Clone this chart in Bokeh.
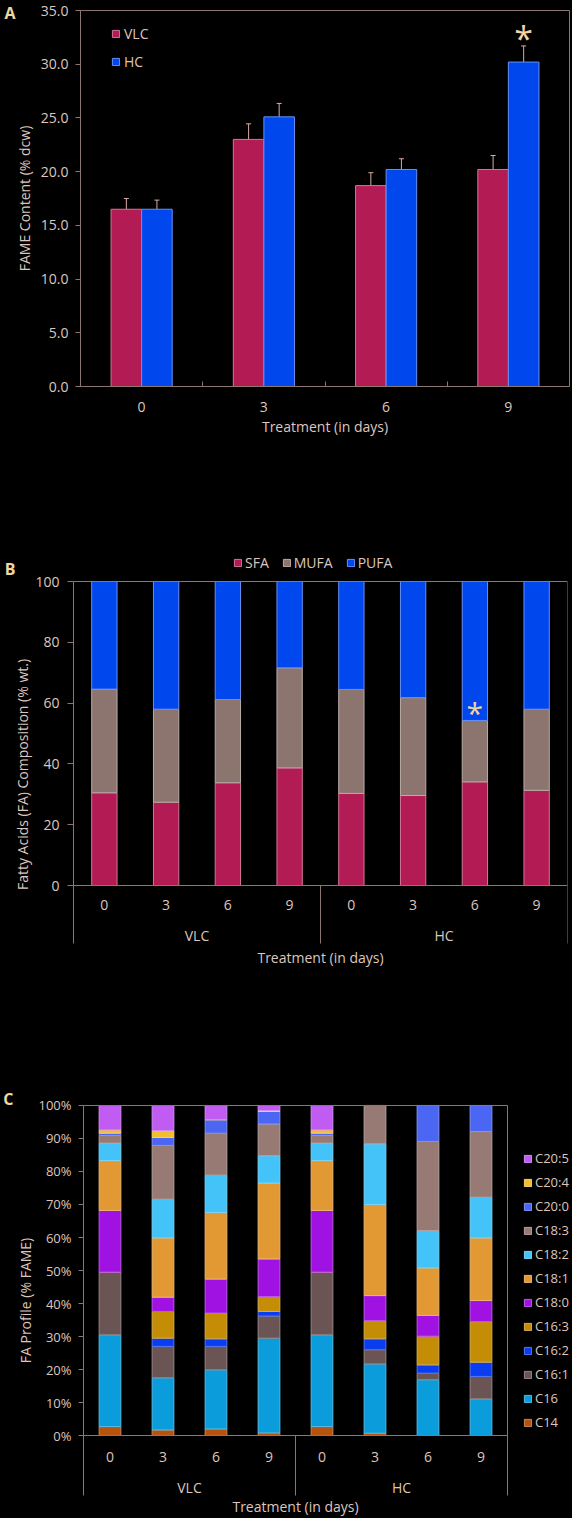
from bokeh.plotting import figure
from bokeh.models import (FactorRange, Range1d, ColumnDataSource, Whisker, TeeHead, Legend,
                          LegendItem, LinearAxis, CategoricalAxis, FixedTicker,
                          SingleIntervalTicker, PrintfTickFormatter)
from bokeh.transform import dodge
from bokeh.embed import file_html
from bokeh.resources import INLINE
from bokeh.core.properties import value

# ---------------- data ----------------
# Panel A : FAME content (% dcw)
days = ["0", "3", "6", "9"]
vlc = [16.5, 23.0, 18.7, 20.2]
vlc_err = [1.0, 1.45, 1.2, 1.3]
hc = [16.5, 25.1, 20.2, 30.2]
hc_err = [0.85, 1.25, 1.0, 1.5]
a_star_day = ["9"]
a_star_y = [32.45]

# Panel B : FA composition (% wt.)
groups = ["VLC", "HC"]
b_classes = ["SFA", "MUFA", "PUFA"]
sfa = [30.5, 27.4, 33.8, 38.7, 30.3, 29.6, 34.1, 31.3]
mufa = [34.1, 30.6, 27.4, 32.9, 34.2, 32.2, 20.2, 26.7]
pufa = [35.4, 42.0, 38.8, 28.4, 35.5, 38.2, 45.7, 42.0]
b_star_x = [("HC", "6")]
b_star_y = [57.0]

# Panel C : FA profile (% FAME)
c_acids = ["C14", "C16", "C16:1", "C16:2", "C16:3", "C18:0",
           "C18:1", "C18:2", "C18:3", "C20:0", "C20:4", "C20:5"]
c14 = [2.7, 1.7, 2.0, 0.8, 2.7, 0.7, 0.0, 0.0]
c16 = [27.8, 15.8, 17.9, 28.7, 27.8, 21.0, 16.9, 11.1]
c16_1 = [19.0, 9.5, 7.1, 6.7, 19.0, 4.3, 2.0, 6.8]
c16_2 = [0.0, 2.5, 2.3, 1.4, 0.0, 3.3, 2.5, 4.3]
c16_3 = [0.0, 8.1, 7.8, 4.5, 0.0, 5.5, 8.7, 12.3]
c18_0 = [18.7, 4.3, 10.3, 11.4, 18.7, 7.6, 6.3, 6.4]
c18_1 = [15.1, 18.0, 20.2, 23.0, 15.1, 27.6, 14.4, 19.0]
c18_2 = [5.3, 11.7, 11.3, 8.3, 5.3, 18.4, 11.3, 12.3]
c18_3 = [2.3, 16.3, 12.7, 9.6, 2.3, 11.6, 27.0, 19.9]
c20_0 = [0.7, 2.4, 4.1, 3.8, 0.7, 0.0, 10.9, 7.9]
c20_4 = [1.0, 2.1, 0.0, 0.3, 1.0, 0.0, 0.0, 0.0]
c20_5 = [7.4, 7.6, 4.3, 1.5, 7.4, 0.0, 0.0, 0.0]
c_series = [c14, c16, c16_1, c16_2, c16_3, c18_0, c18_1, c18_2, c18_3, c20_0, c20_4, c20_5]
c_ticks = [0, 10, 20, 30, 40, 50, 60, 70, 80, 90, 100]

panel_letters = ["A", "B", "C"]

# ---------------- style ----------------
FONT = "Open Sans"
BG = "#000000"
AX = "#8c7770"
TXT = "#dec6be"
LET = "#f0d8a2"
STAR = "#f2d3a4"
ERR = "#d9aca2"
RED = "#b31b55"
BLUE = "#0047ee"
MUFA_C = "#8c756e"
C_COLORS = ["#b5530f", "#0b9ddb", "#6b5454", "#0a3cf0", "#c58d05", "#a012e2",
            "#e39933", "#43c3f7", "#977a74", "#4a66f2", "#f2be30", "#c05cf2"]

W = 572


def lighten(h, f):
    h = h.lstrip("#")
    r, g, b = int(h[0:2], 16), int(h[2:4], 16), int(h[4:6], 16)
    return "#%02x%02x%02x" % (int(r + (255 - r) * f), int(g + (255 - g) * f), int(b + (255 - b) * f))


def base_style(p, outline=True):
    p.background_fill_color = BG
    p.border_fill_color = BG
    p.outline_line_color = AX if outline else None
    p.outline_line_width = 1
    p.styles = {"background-color": BG}
    for g in p.xgrid + p.ygrid:
        g.visible = False


def style_yaxis(ax, tick_size="14px", out=5, standoff=7, lab_standoff=4):
    ax.axis_line_color = AX
    ax.major_tick_line_color = AX
    ax.major_tick_out = out
    ax.major_tick_in = 0
    ax.minor_tick_line_color = None
    ax.major_label_text_font = FONT
    ax.major_label_text_font_size = tick_size
    ax.major_label_text_color = TXT
    ax.major_label_standoff = standoff
    ax.axis_label_text_font = FONT
    ax.axis_label_text_font_size = "14px"
    ax.axis_label_text_font_style = "normal"
    ax.axis_label_text_color = TXT
    ax.axis_label_standoff = lab_standoff


def letter_axis(letter, yv, standoff):
    # outer left axis whose single tick label is the panel letter
    return LinearAxis(ticker=FixedTicker(ticks=[yv]), major_label_overrides={yv: letter},
                      axis_line_color=None, major_tick_line_color=None, minor_tick_line_color=None,
                      major_tick_out=0, major_tick_in=0, major_label_standoff=standoff,
                      major_label_text_font=FONT, major_label_text_font_size="16px",
                      major_label_text_font_style="bold", major_label_text_color=LET)


def plain_line_axis(**kw):
    # axis used only to draw a frame border line (no ticks, no labels)
    return LinearAxis(ticker=FixedTicker(ticks=[]), axis_line_color=AX, major_tick_line_color=None,
                      minor_tick_line_color=None, major_tick_out=0, major_tick_in=0,
                      major_label_standoff=0, major_label_text_color=None,
                      major_label_text_font_size="0px", **kw)


def leaf_axis(standoff, lab_standoff, **kw):
    return CategoricalAxis(fixed_location=0, axis_line_color=AX, major_tick_line_color=None,
                           major_tick_out=0, major_tick_in=0, minor_tick_line_color=None,
                           major_label_text_font=FONT, major_label_text_font_size="14px",
                           major_label_text_color=TXT, major_label_standoff=standoff,
                           group_text_color=None, separator_line_color=None,
                           axis_label="Treatment (in days)", axis_label_text_font=FONT,
                           axis_label_text_font_size="14px", axis_label_text_font_style="normal",
                           axis_label_text_color=TXT, axis_label_standoff=lab_standoff, **kw)


def legend_kw(size="14px"):
    return dict(glyph_width=9, glyph_height=9, label_height=9, label_width=10, padding=0, margin=0,
                background_fill_alpha=0, border_line_alpha=0, label_text_font=FONT,
                label_text_font_size=size, label_text_color=TXT)


# ---------------- Panel A ----------------
pA = figure(width=W, height=448, x_range=FactorRange(*days), y_range=Range1d(0, 35),
            x_axis_location=None, output_backend="svg", toolbar_location=None,
            min_border_left=80, min_border_right=3, min_border_top=10, min_border_bottom=62)
base_style(pA)

srcA = ColumnDataSource(dict(
    day=days, vlc=vlc, hc=hc,
    vlc_lo=[v - e for v, e in zip(vlc, vlc_err)], vlc_hi=[v + e for v, e in zip(vlc, vlc_err)],
    hc_lo=[v - e for v, e in zip(hc, hc_err)], hc_hi=[v + e for v, e in zip(hc, hc_err)]))

rV = pA.vbar(x=dodge("day", -0.125, range=pA.x_range), top="vlc", width=0.25, source=srcA,
             fill_color=RED, line_color=lighten(RED, 0.4), line_width=1)
rH = pA.vbar(x=dodge("day", 0.125, range=pA.x_range), top="hc", width=0.25, source=srcA,
             fill_color=BLUE, line_color=lighten(BLUE, 0.4), line_width=1)

for off, lo, hi in [(-0.125, "vlc_lo", "vlc_hi"), (0.125, "hc_lo", "hc_hi")]:
    pA.add_layout(Whisker(source=srcA, base=dodge("day", off, range=pA.x_range),
                          lower=lo, upper=hi, line_color=ERR, line_width=1,
                          upper_head=TeeHead(size=5, line_color=ERR, line_width=1),
                          lower_head=TeeHead(size=5, line_color=ERR, line_width=1)))

pA.text(x=dodge("day", 0.125, range=pA.x_range), y="y", text="t",
        source=ColumnDataSource(dict(day=a_star_day, y=a_star_y, t=["*"])),
        text_font=value(FONT), text_font_size="34px", text_color=STAR,
        text_align="center", text_baseline="middle")

pA.yaxis.ticker = SingleIntervalTicker(interval=5, num_minor_ticks=0)
pA.yaxis.formatter = PrintfTickFormatter(format="%.1f")
pA.yaxis.axis_label = "FAME Content (% dcw)"
style_yaxis(pA.yaxis[0], out=5, standoff=7, lab_standoff=4)
pA.add_layout(letter_axis(panel_letters[0], 35, -4), "left")

tickA = LinearAxis(ticker=FixedTicker(ticks=list(range(1, len(days)))), major_tick_in=5,
                   major_tick_out=0, major_tick_line_color=AX, axis_line_color=AX,
                   minor_tick_line_color=None, major_label_text_font_size="0px",
                   major_label_text_color=None, major_label_standoff=0)
pA.add_layout(tickA, "below")
catA = CategoricalAxis(axis_line_color=None, major_tick_line_color=None, major_tick_out=0,
                       major_tick_in=0, major_label_standoff=15,
                       major_label_text_font=FONT, major_label_text_font_size="14px",
                       major_label_text_color=TXT, axis_label="Treatment (in days)",
                       axis_label_text_font=FONT, axis_label_text_font_size="14px",
                       axis_label_text_font_style="normal", axis_label_text_color=TXT,
                       axis_label_standoff=2)
pA.add_layout(catA, "below")

legA = Legend(items=[LegendItem(label="VLC", renderers=[rV]), LegendItem(label="HC", renderers=[rH])],
              location=(31, 315), orientation="vertical", label_standoff=4, spacing=9,
              **legend_kw())
pA.add_layout(legA)

# ---------------- Panel B ----------------
xfac = [(g, d) for g in groups for d in days]
n_days = len(days)
n_bars = len(xfac)
B_SEP = -19.08
xB = FactorRange(*xfac, group_padding=0, factor_padding=0, range_padding=0)
pB = figure(width=W, height=550, x_range=xB, y_range=Range1d(-37.17, 110.2),
            x_axis_location=None, output_backend="svg", toolbar_location=None,
            min_border_left=73, min_border_right=5, min_border_top=102, min_border_bottom=0)
base_style(pB, outline=False)
srcB = ColumnDataSource(dict(x=xfac, SFA=sfa, MUFA=mufa, PUFA=pufa))
b_cols = [RED, MUFA_C, BLUE]
rB = pB.vbar_stack(b_classes, x="x", width=0.41, source=srcB, fill_color=b_cols,
                   line_color=[lighten(c, 0.4) for c in b_cols], line_width=1)
pB.text(x="x", y="y", text="t", source=ColumnDataSource(dict(x=b_star_x, y=b_star_y, t=["*"])),
        text_font=value(FONT), text_font_size="30px", text_color=STAR,
        text_align="center", text_baseline="middle")

pB.yaxis.ticker = SingleIntervalTicker(interval=20, num_minor_ticks=0)
pB.yaxis.axis_label = "Fatty Acids (FA) Composition (% wt.)"
pB.yaxis.bounds = (B_SEP, 100)
style_yaxis(pB.yaxis[0], out=6, standoff=8, lab_standoff=0)
pB.add_layout(letter_axis(panel_letters[1], 104, -5), "left")

pB.add_layout(leaf_axis(14, 35), "below")
pB.add_layout(plain_line_axis(fixed_location=100), "above")
pB.add_layout(plain_line_axis(fixed_location=n_bars - 0.008, bounds=(B_SEP, 100)), "right")
pB.segment(x0=[n_days], y0=[0], x1=[n_days], y1=[B_SEP], line_color=AX, line_width=1)
pB.text(x=[i * n_days + n_days / 2 for i in range(len(groups))], y=[-16.45] * len(groups),
        text=groups, text_font=value(FONT), text_font_size="14px", text_color=TXT,
        text_align="center", text_baseline="middle")

legB = Legend(items=[LegendItem(label=n, renderers=[r]) for n, r in zip(b_classes, rB)],
              location=(160, 426), orientation="horizontal", label_standoff=3, spacing=13,
              **legend_kw())
pB.add_layout(legB)

# ---------------- Panel C ----------------
C_SEP = -18.2
xC = FactorRange(*xfac, group_padding=0, factor_padding=0, range_padding=0.3066,
                 range_padding_units="percent")
pC = figure(width=W, height=520, x_range=xC, y_range=Range1d(-25.15, 106.06),
            x_axis_location=None, y_axis_location=None, output_backend="svg",
            toolbar_location=None, min_border_left=18, min_border_right=0,
            min_border_top=87, min_border_bottom=0)
base_style(pC, outline=False)
dataC = dict(x=xfac)
for name, s in zip(c_acids, c_series):
    dataC[name] = s
srcC = ColumnDataSource(dataC)
rC = pC.vbar_stack(c_acids, x="x", width=0.41, source=srcC, fill_color=C_COLORS,
                   line_color=[lighten(c, 0.3) for c in C_COLORS], line_width=1)

yC = LinearAxis(fixed_location=0, bounds=(C_SEP, 100), ticker=FixedTicker(ticks=c_ticks),
                formatter=PrintfTickFormatter(format="%d%%"), axis_label="FA Profile (% FAME)")
style_yaxis(yC, tick_size="13px", out=5, standoff=7, lab_standoff=0)
pC.add_layout(yC, "left")
pC.add_layout(letter_axis(panel_letters[2], 102, 5), "left")

pC.add_layout(leaf_axis(16, 32, bounds=(0, n_bars)), "below")
pC.add_layout(plain_line_axis(fixed_location=100, bounds=(0, n_bars)), "above")
pC.add_layout(plain_line_axis(fixed_location=n_bars, bounds=(C_SEP, 100)), "right")
pC.segment(x0=[n_days], y0=[0], x1=[n_days], y1=[C_SEP], line_color=AX, line_width=1)
pC.text(x=[i * n_days + n_days / 2 for i in range(len(groups))], y=[-15.67] * len(groups),
        text=groups, text_font=value(FONT), text_font_size="14px", text_color=TXT,
        text_align="center", text_baseline="middle")

legC = Legend(items=[LegendItem(label=n, renderers=[r]) for n, r in reversed(list(zip(c_acids, rC)))],
              location=(505, 87), orientation="vertical", label_standoff=3, spacing=6,
              **legend_kw("13px"))
pC.add_layout(legC)

open("out.html", "w").write(file_html([pA, pB, pC], INLINE))
